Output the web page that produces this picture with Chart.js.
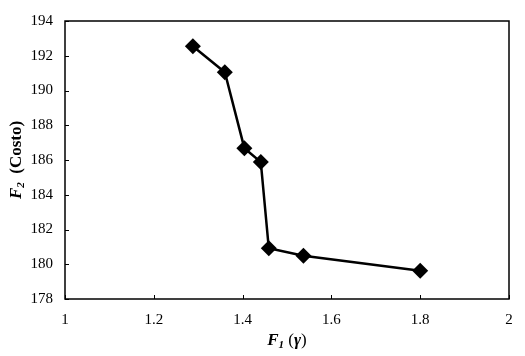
<!DOCTYPE html>
<html><head><meta charset="utf-8">
<script src="https://cdn.jsdelivr.net/npm/chart.js@4"></script>
<style>html,body{margin:0;padding:0;background:#fff}#wrap{width:525px;height:356px}</style>
</head><body><div id="wrap"><canvas id="c" width="525" height="356"></canvas></div>
<script>
const xValues = [1.288, 1.360, 1.404, 1.441, 1.459, 1.537, 1.800];
const yValues = [192.55, 191.05, 186.68, 185.88, 180.92, 180.49, 179.62];
const xTicks = [1, 1.2, 1.4, 1.6, 1.8, 2];
const yTicks = [178, 180, 182, 184, 186, 188, 190, 192, 194];
const xTitleParts = ['F', '1', ' (', '\u03B3', ')'];
const yTitleParts = ['F', '2', '  (Costo)'];

const points = xValues.map((x, i) => ({x: x, y: yValues[i]}));
const FONT = '"Liberation Serif","Times New Roman",serif';
const F_IT = 'italic bold 17px ' + FONT;
const F_SUB = 'italic bold 11px ' + FONT;
const F_REG = 'bold 17px ' + FONT;
const F_REG_X = '17px ' + FONT;

function drawRuns(ctx, runs) {
  let total = 0;
  runs.forEach(r => { ctx.font = r[1]; r.w = ctx.measureText(r[0]).width; total += r.w; });
  let x0 = -total / 2;
  runs.forEach(r => { ctx.font = r[1]; ctx.fillText(r[0], x0, r[2]); x0 += r.w; });
}

const framePlugin = {
  id: 'frame',
  afterDraw(chart) {
    const {ctx, chartArea: a, scales} = chart;
    ctx.save();
    ctx.strokeStyle = '#000';
    ctx.lineWidth = 1.5;
    ctx.strokeRect(a.left, a.top, a.right - a.left, a.bottom - a.top);
    ctx.lineWidth = 1;
    ctx.beginPath();
    yTicks.forEach(v => {
      const p = Math.round(scales.y.getPixelForValue(v)) + 0.5;
      ctx.moveTo(a.left, p); ctx.lineTo(a.left + 4, p);
    });
    xTicks.forEach(v => {
      const p = Math.round(scales.x.getPixelForValue(v)) + 0.5;
      ctx.moveTo(p, a.bottom); ctx.lineTo(p, a.bottom - 4);
    });
    ctx.stroke();
    ctx.fillStyle = '#000';
    ctx.textBaseline = 'middle';
    ctx.textAlign = 'left';
    // x title
    ctx.save();
    ctx.translate((a.left + a.right) / 2, 341);
    drawRuns(ctx, [
      [xTitleParts[0], F_IT, 0], [xTitleParts[1], F_SUB, 4],
      [xTitleParts[2], F_REG_X, 0], [xTitleParts[3], F_IT, 0], [xTitleParts[4], F_REG_X, 0]
    ]);
    ctx.restore();
    // y title
    ctx.translate(17, (a.top + a.bottom) / 2);
    ctx.rotate(-Math.PI / 2);
    drawRuns(ctx, [
      [yTitleParts[0], F_IT, 0], [yTitleParts[1], F_SUB, 4], [yTitleParts[2], F_REG, 0]
    ]);
    ctx.restore();
  }
};

new Chart(document.getElementById('c'), {
  type: 'scatter',
  data: { datasets: [{
    data: points,
    showLine: true,
    borderColor: '#000',
    backgroundColor: '#000',
    borderWidth: 2.5,
    pointStyle: 'rectRot',
    pointRadius: 8,
    pointHoverRadius: 8,
    pointBorderWidth: 0,
    tension: 0
  }]},
  options: {
    responsive: false,
    animation: false,
    events: [],
    layout: { padding: { top: 12, right: 16, left: 0, bottom: 0 } },
    plugins: { legend: { display: false }, tooltip: { enabled: false } },
    scales: {
      x: {
        type: 'linear', min: 1, max: 2,
        afterBuildTicks: s => { s.ticks = xTicks.map(v => ({value: v})); },
        afterFit: s => { s.height = 57; },
        grid: { display: false, drawTicks: false },
        border: { display: false },
        ticks: { color: '#000', font: { family: FONT, size: 15 }, padding: 12, maxRotation: 0,
          callback: v => String(v) },
        title: { display: false }
      },
      y: {
        type: 'linear', min: 178, max: 194,
        afterBuildTicks: s => { s.ticks = yTicks.map(v => ({value: v})); },
        afterFit: s => { s.width = 65; },
        grid: { display: false, drawTicks: false },
        border: { display: false },
        ticks: { color: '#000', font: { family: FONT, size: 15 }, padding: 12 },
        title: { display: false }
      }
    }
  },
  plugins: [framePlugin]
});
</script>
</body></html>
